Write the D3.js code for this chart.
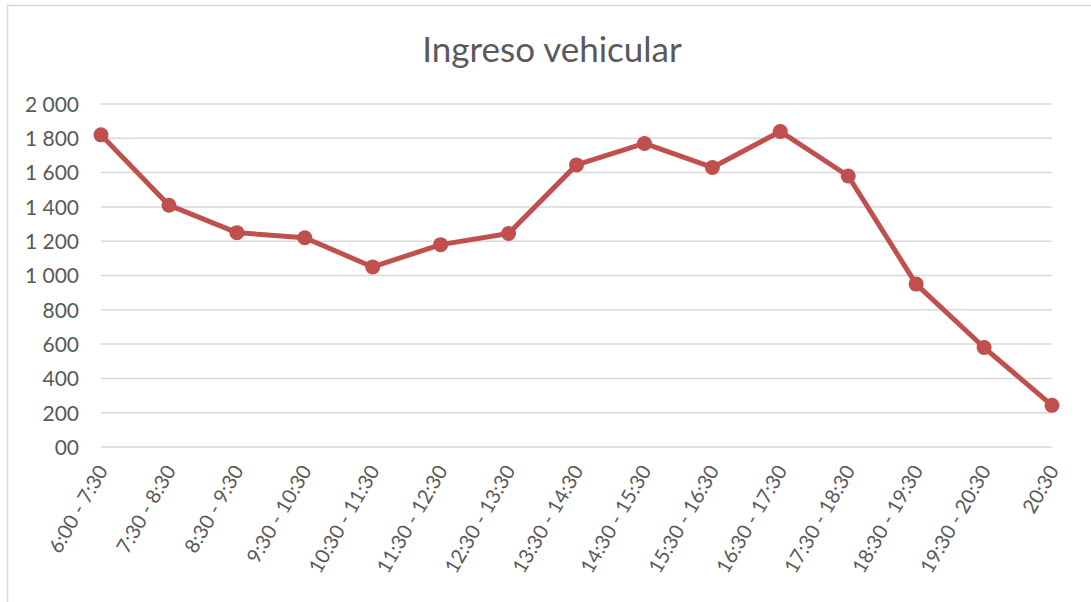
<!DOCTYPE html>
<html lang="es">
<head>
    <meta charset="UTF-8">
    <title>Ingreso vehicular</title>
    <script src="https://d3js.org/d3.v7.min.js"></script>
    <style>
        body { margin: 0; background: #fff; }
        svg text { font-family: Lato, "Open Sans", sans-serif; fill: #595959; }
    </style>
</head>
<body>
    <svg id="chart"></svg>

    <script>
        // franjas horarias
        const franjas = ['6:00 - 7:30', '7:30 - 8:30', '8:30 - 9:30', '9:30 - 10:30', '10:30 - 11:30',
            '11:30 - 12:30', '12:30 - 13:30', '13:30 - 14:30', '14:30 - 15:30', '15:30 - 16:30',
            '16:30 - 17:30', '17:30 - 18:30', '18:30 - 19:30', '19:30 - 20:30', '20:30'];

        // vehiculos que ingresan
        const vehiculos = [1820, 1410, 1250, 1220, 1050, 1180, 1245, 1645, 1770, 1630, 1840, 1580, 950, 580, 243];

        const yTicks = [0, 200, 400, 600, 800, 1000, 1200, 1400, 1600, 1800, 2000];
        const yTickLabels = ['00', '200', '400', '600', '800', '1 000', '1 200', '1 400', '1 600', '1 800', '2 000'];

        const width = 1091, height = 602;
        const margin = { top: 104, right: 39, bottom: 155, left: 101 };
        const innerW = width - margin.left - margin.right;
        const innerH = height - margin.top - margin.bottom;

        const svg = d3.select('#chart')
            .attr('width', width)
            .attr('height', height);

        // borde del area del grafico
        svg.append('rect')
            .attr('x', 7.5)
            .attr('y', 5.5)
            .attr('width', width)
            .attr('height', height)
            .attr('fill', 'none')
            .attr('stroke', '#d9d9d9')
            .attr('stroke-width', 1.5);

        svg.append('text')
            .attr('x', 552)
            .attr('y', 62)
            .attr('text-anchor', 'middle')
            .style('font-size', '35px')
            .text('Ingreso vehicular');

        const g = svg.append('g')
            .attr('transform', `translate(${margin.left},${margin.top})`);

        const x = d3.scalePoint().domain(franjas).range([0, innerW]).padding(0);
        const y = d3.scaleLinear().domain([0, 2000]).range([innerH, 0]);

        // lineas de cuadricula
        g.selectAll('.grid')
            .data(yTicks)
            .enter().append('line')
            .attr('class', 'grid')
            .attr('x1', 0)
            .attr('x2', innerW)
            .attr('y1', d => y(d))
            .attr('y2', d => y(d))
            .attr('stroke', '#d9d9d9')
            .attr('stroke-width', 1.5);

        // eje y
        const yAxis = g.append('g')
            .call(d3.axisLeft(y).tickValues(yTicks).tickSize(0).tickPadding(22)
                .tickFormat((d, i) => yTickLabels[i]));
        yAxis.select('.domain').remove();
        yAxis.selectAll('text')
            .style('font-size', '21px')
            .attr('fill', '#595959')
            .attr('dy', '0.35em');

        // eje x
        const xAxis = g.append('g')
            .attr('transform', `translate(0,${innerH})`)
            .call(d3.axisBottom(x).tickSize(0));
        xAxis.select('.domain').remove();
        xAxis.selectAll('text')
            .style('font-size', '20px')
            .attr('fill', '#595959')
            .attr('text-anchor', 'end')
            .attr('x', 0)
            .attr('y', 0)
            .attr('dy', '0.35em')
            .attr('transform', 'translate(1,20) rotate(-60)');

        const serie = franjas.map((f, i) => ({ franja: f, valor: vehiculos[i] }));

        const line = d3.line()
            .x(d => x(d.franja))
            .y(d => y(d.valor));

        g.append('path')
            .datum(serie)
            .attr('fill', 'none')
            .attr('stroke', '#c0504d')
            .attr('stroke-width', 5)
            .attr('stroke-linejoin', 'round')
            .attr('d', line);

        g.selectAll('.punto')
            .data(serie)
            .enter().append('circle')
            .attr('class', 'punto')
            .attr('cx', d => x(d.franja))
            .attr('cy', d => y(d.valor))
            .attr('r', 7.5)
            .attr('fill', '#c0504d');
    </script>
</body>
</html>
